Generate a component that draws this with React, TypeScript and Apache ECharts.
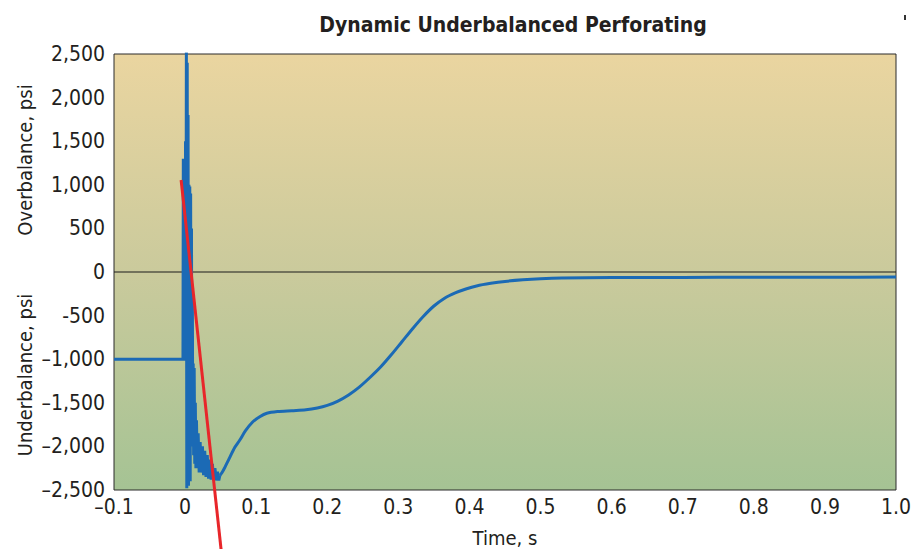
import React, { useEffect, useRef } from "react";
import * as echarts from "echarts";

const chartTitle = "Dynamic Underbalanced Perforating";
const xAxisTitle = "Time, s";
const yTitleUpper = "Overbalance, psi";
const yTitleLower = "Underbalance, psi";

// Y tick labels as printed in the figure
const yTickLabels: Record<string, string> = {
  "2500": "2,500",
  "2000": "2,000",
  "1500": "1,500",
  "1000": "1,000",
  "500": "500",
  "0": "0",
  "-500": "-500",
  "-1000": "\u20131,000",
  "-1500": "\u20131,500",
  "-2000": "\u20132,000",
  "-2500": "\u20132,500",
};

// Gun-shock (oscillating) part of the pressure record: time (s), pressure (psi)
const shockTime = [
  -0.1, -0.003, -0.0025, -0.002, 0.0, 0.0006, 0.0012, 0.0018, 0.0024, 0.003,
  0.0036, 0.0042, 0.0048, 0.0054, 0.006, 0.0066, 0.0072, 0.0078, 0.0084, 0.009,
  0.0096, 0.0102, 0.0108, 0.0114, 0.012, 0.0128, 0.0136, 0.0144, 0.0152, 0.016,
  0.0172, 0.0184, 0.0198, 0.0212, 0.0228, 0.0244, 0.026, 0.0276, 0.0294, 0.0312,
  0.033, 0.0348, 0.0366, 0.0384, 0.0402, 0.042, 0.0438, 0.0456, 0.0474, 0.049,
];
const shockPsi = [
  -1000, -1000, 1300, -1000, -1000, 1500, -900, 2520, -2480, 2400,
  -1500, 1800, -2450, 1000, -1800, 980, -2400, 900, -1600, 500,
  -2000, -200, -1900, -1050, -2100, -1100, -2200, -1500, -2250, -1700,
  -2250, -1850, -2300, -1950, -2300, -2000, -2330, -2050, -2350, -2100,
  -2370, -2150, -2380, -2200, -2390, -2250, -2390, -2290, -2390, -2330,
];

// Recovery part of the record (smooth)
const recoveryTime = [
  0.049, 0.052, 0.056, 0.062, 0.07, 0.077, 0.085, 0.095, 0.105, 0.115,
  0.13, 0.15, 0.17, 0.186, 0.2, 0.215, 0.23, 0.245, 0.26, 0.275,
  0.29, 0.305, 0.32, 0.335, 0.35, 0.365, 0.38, 0.395, 0.41, 0.43,
  0.45, 0.475, 0.5, 0.53, 0.6, 0.7, 0.8, 0.9, 1.0,
];
const recoveryPsi = [
  -2330, -2300, -2240, -2140, -2010, -1927, -1820, -1720, -1660, -1620,
  -1600, -1590, -1580, -1560, -1530, -1480, -1410, -1320, -1210, -1090,
  -950, -800, -650, -510, -390, -300, -240, -195, -160, -130,
  -108, -90, -78, -70, -64, -62, -60, -60, -58,
];

// Red trend line
const trendTime = [-0.0056, 0.0506];
const trendPsi = [1055, -3180];

const FONT = "'Liberation Sans Narrow', 'DejaVu Sans Condensed', 'Liberation Sans', sans-serif";

export default function App() {
  const ref = useRef<HTMLDivElement>(null);

  useEffect(() => {
    if (!ref.current) return;
    const chart = echarts.init(ref.current, undefined, { renderer: "svg" });

    const zip = (xs: number[], ys: number[]) => xs.map((x, i) => [x, ys[i]]);

    chart.setOption({
      animation: false,
      backgroundColor: "#ffffff",
      title: {
        text: chartTitle,
        left: 508,
        top: 9,
        textAlign: "center",
        textStyle: {
          fontFamily: FONT,
          fontWeight: "bold",
          fontSize: 21,
          color: "#231f20",
        },
      },
      grid: {
        left: 114,
        right: 18,
        top: 54,
        bottom: 59,
        outerBoundsMode: "none",
        containLabel: false,
        show: true,
        borderColor: "#2a2a2a",
        borderWidth: 1,
        backgroundColor: new echarts.graphic.LinearGradient(0, 0, 0, 1, [
          { offset: 0, color: "rgb(234,213,160)" },
          { offset: 0.5, color: "rgb(202,202,156)" },
          { offset: 1, color: "rgb(165,195,148)" },
        ]),
      },
      xAxis: {
        type: "value",
        min: -0.1,
        max: 1.0,
        interval: 0.1,
        name: xAxisTitle,
        nameLocation: "middle",
        nameGap: 38,
        nameTextStyle: { fontFamily: FONT, fontSize: 20, color: "#231f20" },
        axisLine: { show: false },
        axisTick: { show: false },
        splitLine: { show: false },
        axisLabel: {
          fontFamily: FONT,
          fontSize: 21,
          color: "#231f20",
          margin: 6,
          formatter: (v: number) => {
            const r = Math.round(v * 10) / 10;
            if (r === 0) return "0";
            if (r < 0) return "\u2013" + Math.abs(r).toFixed(1);
            return r.toFixed(1);
          },
        },
      },
      yAxis: {
        type: "value",
        min: -2500,
        max: 2500,
        interval: 500,
        axisLine: { show: false },
        axisTick: { show: false },
        splitLine: { show: false },
        axisLabel: {
          fontFamily: FONT,
          fontSize: 21,
          color: "#231f20",
          margin: 9,
          formatter: (v: number) => yTickLabels[String(Math.round(v))] ?? String(v),
        },
      },
      graphic: [
        {
          type: "text",
          x: 25,
          y: 160,
          rotation: Math.PI / 2,
          style: {
            text: yTitleUpper,
            fontFamily: FONT,
            fontSize: 20,
            fill: "#231f20",
            align: "center",
            verticalAlign: "middle",
          },
        },
        {
          type: "text",
          x: 25,
          y: 375,
          rotation: Math.PI / 2,
          style: {
            text: yTitleLower,
            fontFamily: FONT,
            fontSize: 20,
            fill: "#231f20",
            align: "center",
            verticalAlign: "middle",
          },
        },
        {
          type: "rect",
          shape: { x: 904, y: 15, width: 2, height: 5 },
          style: { fill: "#333" },
        },
      ],
      series: [
        {
          type: "line",
          data: [
            [-0.1, 0],
            [1.0, 0],
          ],
          showSymbol: false,
          silent: true,
          lineStyle: { color: "#1a1a1a", width: 1 },
          z: 1,
        },
        {
          type: "line",
          data: zip(shockTime, shockPsi),
          showSymbol: false,
          lineStyle: { color: "#1b6ab5", width: 3, join: "miter" },
          z: 3,
        },
        {
          type: "line",
          data: zip(recoveryTime, recoveryPsi),
          showSymbol: false,
          smooth: 0.3,
          lineStyle: { color: "#1b6ab5", width: 3 },
          z: 3,
        },
        {
          type: "line",
          data: zip(trendTime, trendPsi),
          showSymbol: false,
          clip: false,
          lineStyle: { color: "#e8262a", width: 3 },
          z: 4,
        },
      ],
    });

    return () => chart.dispose();
  }, []);

  return <div ref={ref} style={{ width: 914, height: 549, position: "absolute", left: 0, top: 0 }} />;
}
